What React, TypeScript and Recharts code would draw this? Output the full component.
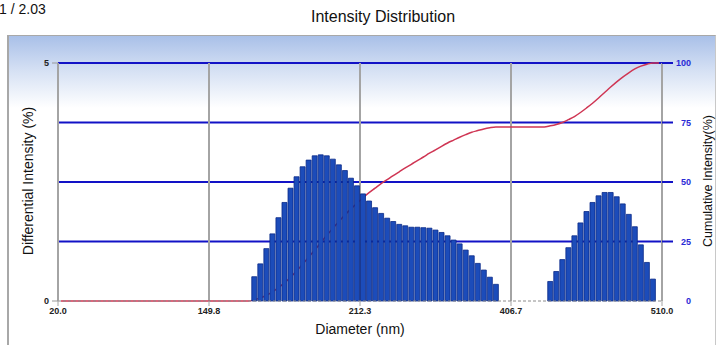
import {
  ComposedChart,
  Bar,
  Line,
  XAxis,
  YAxis,
  CartesianGrid
} from 'recharts';

// x tick labels (nm), one every 25 bins
const tickLabels = ['20.0', '149.8', '212.3', '406.7', '510.0'];
const tickBins = [0, 25, 50, 75, 100];

// differential intensity (%) per bin, 100 bins
const differential = [
  0, 0, 0, 0, 0, 0, 0, 0, 0, 0,
  0, 0, 0, 0, 0, 0, 0, 0, 0, 0,
  0, 0, 0, 0, 0, 0, 0, 0, 0, 0,
  0, 0, 0.51, 0.78, 1.10, 1.41, 1.75, 2.07, 2.37, 2.61,
  2.82, 2.96, 3.05, 3.07, 3.05, 2.98, 2.86, 2.74, 2.58, 2.42,
  2.25, 2.10, 1.96, 1.84, 1.74, 1.67, 1.61, 1.58, 1.55, 1.55,
  1.54, 1.53, 1.49, 1.44, 1.37, 1.28, 1.20, 1.07, 0.95, 0.79,
  0.65, 0.50, 0.35, 0, 0, 0, 0, 0, 0, 0,
  0, 0.41, 0.62, 0.87, 1.12, 1.37, 1.64, 1.88, 2.07, 2.21,
  2.28, 2.28, 2.19, 2.04, 1.82, 1.56, 1.18, 0.81, 0.46, 0
];

// cumulative intensity (%) per bin
const cumulative = [
  0, 0, 0, 0, 0, 0, 0, 0, 0, 0,
  0, 0, 0, 0, 0, 0, 0, 0, 0, 0,
  0, 0, 0, 0, 0, 0, 0, 0, 0, 0,
  0, 0, 0.5, 1.3, 2.4, 3.8, 5.6, 7.6, 10.0, 12.6,
  15.4, 18.4, 21.4, 24.5, 27.6, 30.5, 33.4, 36.1, 38.7, 41.1,
  43.4, 45.5, 47.4, 49.3, 51.0, 52.7, 54.3, 55.9, 57.4, 59.0,
  60.5, 62.1, 63.5, 65.0, 66.4, 67.6, 68.8, 69.9, 70.9, 71.6,
  72.3, 72.8, 73.1, 73.1, 73.1, 73.1, 73.1, 73.1, 73.1, 73.1,
  73.1, 73.6, 74.2, 75.0, 76.2, 77.5, 79.2, 81.1, 83.1, 85.3,
  87.6, 89.9, 92.1, 94.1, 95.9, 97.5, 98.7, 99.5, 100.0, 100.0
];

const FONT = '"Liberation Sans", Arial, sans-serif';
const GRID_BLUE = '#1212c6';
const GRID_GRAY = '#a4a4a4';

const RightTick = ({ x, y, payload }: any) => (
  <g>
    {payload.value > 0 && (
      <line x1={x} y1={y} x2={x + 11} y2={y} stroke={GRID_BLUE} strokeWidth={2} />
    )}
    <text
      x={x + 29}
      y={y}
      dy={3}
      textAnchor="end"
      fontSize={9}
      fontWeight="bold"
      fontFamily={FONT}
      fill="#2a2ad6"
    >
      {payload.value}
    </text>
  </g>
);

export default function App() {
  const rows = differential.map((d, i) => ({
    bin: i + 0.5,
    differential: d,
    cumulative: cumulative[i]
  }));

  return (
    <div
      style={{
        position: 'absolute',
        left: 0,
        top: 0,
        width: 720,
        height: 345,
        overflow: 'hidden',
        background: '#fff',
        fontFamily: FONT
      }}
    >
      {/* panel frame with light blue gradient on top */}
      <div
        style={{
          position: 'absolute',
          left: 7,
          top: 35,
          width: 706,
          height: 320,
          borderLeft: '2px solid #a8a8a8',
          borderTop: '1px solid #a8a8a8',
          borderRight: '1px solid #c8c8c8',
          background: 'linear-gradient(to bottom, #a9c0e8 0px, #d6e1f4 35px, #ffffff 72px)'
        }}
      />

      <div style={{ position: 'absolute', left: -1, top: 1, fontSize: 14, color: '#111' }}>
        1 / 2.03
      </div>
      <div
        style={{
          position: 'absolute',
          left: 383,
          top: 8,
          transform: 'translateX(-50%)',
          fontSize: 16,
          color: '#111',
          whiteSpace: 'nowrap'
        }}
      >
        Intensity Distribution
      </div>

      <div style={{ position: 'absolute', left: 0, top: 0 }}>
        <ComposedChart
          width={720}
          height={345}
          data={rows}
          margin={{ top: 63, right: 0, bottom: 0, left: 0 }}
          barCategoryGap={0.5}
          barGap={0}
        >
          <CartesianGrid
            yAxisId="right"
            vertical={false}
            horizontalValues={[25, 50, 75, 100]}
            stroke={GRID_BLUE}
            strokeWidth={2}
          />
          <CartesianGrid
            horizontal={false}
            stroke={GRID_GRAY}
            strokeWidth={2}
          />

          <XAxis
            dataKey="bin"
            type="number"
            domain={[0, 100]}
            ticks={tickBins}
            tickFormatter={(_v: number, i: number) => tickLabels[i]}
            height={44}
            axisLine={{ stroke: '#8c8c8c', strokeDasharray: '3 2' }}
            tickLine={{ stroke: GRID_GRAY }}
            tickSize={5}
            tickMargin={2}
            tick={{ fontSize: 9, fontWeight: 'bold', fill: '#222', fontFamily: FONT }}
          />
          <YAxis
            yAxisId="left"
            domain={[0, 5]}
            ticks={[0, 5]}
            width={58}
            axisLine={{ stroke: GRID_GRAY, strokeWidth: 2 }}
            tickLine={{ stroke: '#999' }}
            tickSize={6}
            tickMargin={3}
            tick={{ fontSize: 9, fontWeight: 'bold', fill: '#222', fontFamily: FONT }}
          />
          <YAxis
            yAxisId="right"
            orientation="right"
            domain={[0, 100]}
            ticks={[0, 25, 50, 75, 100]}
            width={58}
            axisLine={{ stroke: GRID_GRAY, strokeWidth: 2 }}
            tickLine={false}
            tickSize={0}
            tickMargin={0}
            tick={<RightTick />}
          />

          <Line
            yAxisId="right"
            dataKey="cumulative"
            type="monotone"
            stroke="#cf3553"
            strokeWidth={1.5}
            dot={false}
            activeDot={false}
            zIndex={250}
            isAnimationActive={false}
          />
          <Bar
            yAxisId="left"
            dataKey="differential"
            fill="#1c4cba"
            stroke="#0a2a88"
            strokeWidth={0.8}
            isAnimationActive={false}
          />
        </ComposedChart>
      </div>

      <div
        style={{
          position: 'absolute',
          left: 28,
          top: 181,
          transform: 'translate(-50%, -50%) rotate(-90deg)',
          fontSize: 14,
          color: '#111',
          whiteSpace: 'nowrap'
        }}
      >
        Differential Intensity (%)
      </div>
      <div
        style={{
          position: 'absolute',
          left: 708,
          top: 181,
          transform: 'translate(-50%, -50%) rotate(-90deg)',
          fontSize: 12.5,
          color: '#111',
          whiteSpace: 'nowrap'
        }}
      >
        Cumulative Intensity(%)
      </div>
      <div
        style={{
          position: 'absolute',
          left: 360,
          top: 321,
          transform: 'translateX(-50%)',
          fontSize: 14,
          color: '#111',
          whiteSpace: 'nowrap'
        }}
      >
        Diameter (nm)
      </div>
    </div>
  );
}
